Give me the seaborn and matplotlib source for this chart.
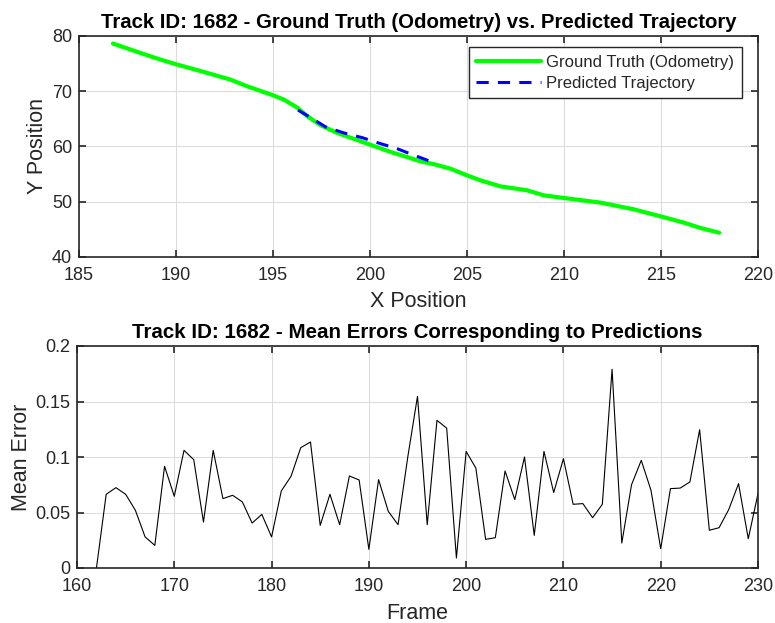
import numpy as np
import pandas as pd
import matplotlib
matplotlib.use("Agg")
import matplotlib.pyplot as plt
import seaborn as sns

# Ground truth trajectory
gt_x = [186.75, 188.16, 189.19, 190.0, 191.43, 192.81, 193.67, 195.0, 195.56, 196.25,
        196.77, 197.46, 198.32, 200.0, 201.07, 202.0, 202.59, 203.3, 204.14, 205.0,
        205.69, 206.72, 208.1, 208.96, 210.0, 211.89, 213.61, 214.99, 216.19, 217.05, 218.0]
gt_y = [78.64, 76.94, 75.74, 74.89, 73.5, 72.11, 70.9, 69.28, 68.49, 67.04,
        65.47, 63.84, 62.45, 60.34, 59.0, 58.0, 57.32, 56.8, 55.99, 54.78,
        53.88, 52.79, 52.07, 51.16, 50.68, 49.84, 48.62, 47.35, 46.21, 45.24, 44.4]

# Predicted trajectory
pred_x = [196.29, 196.94, 197.71, 198.66, 199.6, 200.56, 201.33, 202.28, 203.28]
pred_y = [66.6, 65.23, 63.54, 62.45, 61.6, 60.5, 59.7, 58.4, 57.1]

# Mean errors per frame
frames = list(range(162, 231))
mean_err = [0.0, 0.0664, 0.0724, 0.0664, 0.052, 0.028, 0.0204, 0.0916, 0.0646, 0.106,
            0.0976, 0.0414, 0.106, 0.0625, 0.0655, 0.0595, 0.0405, 0.0483, 0.028, 0.0694,
            0.0826, 0.1084, 0.1135, 0.0384, 0.0664, 0.039, 0.0829, 0.0793, 0.0168, 0.0796,
            0.051, 0.039, 0.1, 0.1547, 0.039, 0.133, 0.126, 0.009, 0.105, 0.090,
            0.0258, 0.0273, 0.0874, 0.0616, 0.1, 0.0294, 0.105, 0.068, 0.0985, 0.0574,
            0.058, 0.0453, 0.0574, 0.179, 0.0225, 0.075, 0.097, 0.070, 0.0174, 0.0715,
            0.072, 0.0775, 0.1246, 0.034, 0.0363, 0.0528, 0.076, 0.0264, 0.067]

sns.set_style("whitegrid")
plt.rcParams['font.family'] = ['Liberation Sans', 'DejaVu Sans']

fig = plt.figure(figsize=(7.75, 6.23), dpi=100)
W, H = 775, 623
ax1 = fig.add_axes([79 / W, 1 - 257 / H, (758 - 79) / W, (257 - 36) / H])
ax2 = fig.add_axes([77 / W, 1 - 568 / H, (758 - 77) / W, (568 - 346) / H])

gt = pd.DataFrame({"x": gt_x, "y": gt_y})
pr = pd.DataFrame({"x": pred_x, "y": pred_y})
er = pd.DataFrame({"frame": frames, "err": mean_err})

sns.lineplot(data=gt, x="x", y="y", sort=False, ax=ax1, color="#00ff00", linewidth=3.0,
             label="Ground Truth (Odometry)", estimator=None)
sns.lineplot(data=pr, x="x", y="y", sort=False, ax=ax1, color="#0000ff", linewidth=2.2,
             linestyle=(0, (4, 3)), label="Predicted Trajectory", estimator=None)
sns.lineplot(data=er, x="frame", y="err", ax=ax2, color="black", linewidth=0.8, estimator=None)

edge = "#262626"
for ax in (ax1, ax2):
    ax.grid(True, color="#dcdcdc", linewidth=0.8)
    for s in ax.spines.values():
        s.set_visible(True)
        s.set_color(edge)
        s.set_linewidth(1.2)
    ax.tick_params(direction="in", length=5, width=1.2, color=edge, labelsize=13,
                   labelcolor=edge, top=True, right=True, bottom=True, left=True)
    ax.tick_params(axis="x", pad=7)
    ax.tick_params(axis="y", pad=5)
    ax.set_axisbelow(True)

ax1.set_xlim(185, 220)
ax1.set_ylim(40, 80)
ax1.set_xticks(np.arange(185, 221, 5))
ax1.set_yticks(np.arange(40, 81, 10))
ax1.set_xlabel("X Position", fontsize=15.5, color=edge, labelpad=5)
ax1.set_ylabel("Y Position", fontsize=15.5, color=edge, labelpad=3)
ax1.set_title("Track ID: 1682 - Ground Truth (Odometry) vs. Predicted Trajectory",
              fontsize=14.7, fontweight="bold", color="black", pad=6)
leg = ax1.legend(loc="upper right", bbox_to_anchor=(741.5 / W, 1 - 47 / H),
                 bbox_transform=fig.transFigure, borderaxespad=0,
                 fontsize=12, frameon=True, fancybox=False,
                 framealpha=1, edgecolor=edge, handlelength=3.9,
                 handletextpad=0.3, borderpad=0.45, labelspacing=0.38)
leg.get_frame().set_linewidth(1.0)

ax2.set_xlim(160, 230)
ax2.set_ylim(0, 0.2)
ax2.set_xticks(np.arange(160, 231, 10))
ax2.set_yticks([0, 0.05, 0.1, 0.15, 0.2])
ax2.set_yticklabels(["0", "0.05", "0.1", "0.15", "0.2"])
ax2.set_xlabel("Frame", fontsize=15.5, color=edge, labelpad=6)
ax2.set_ylabel("Mean Error", fontsize=15.5, color=edge, labelpad=2)
ax2.set_title("Track ID: 1682 - Mean Errors Corresponding to Predictions",
              fontsize=14.8, fontweight="bold", color="black", pad=6)

fig.savefig("out.png", dpi=100, facecolor="white")
